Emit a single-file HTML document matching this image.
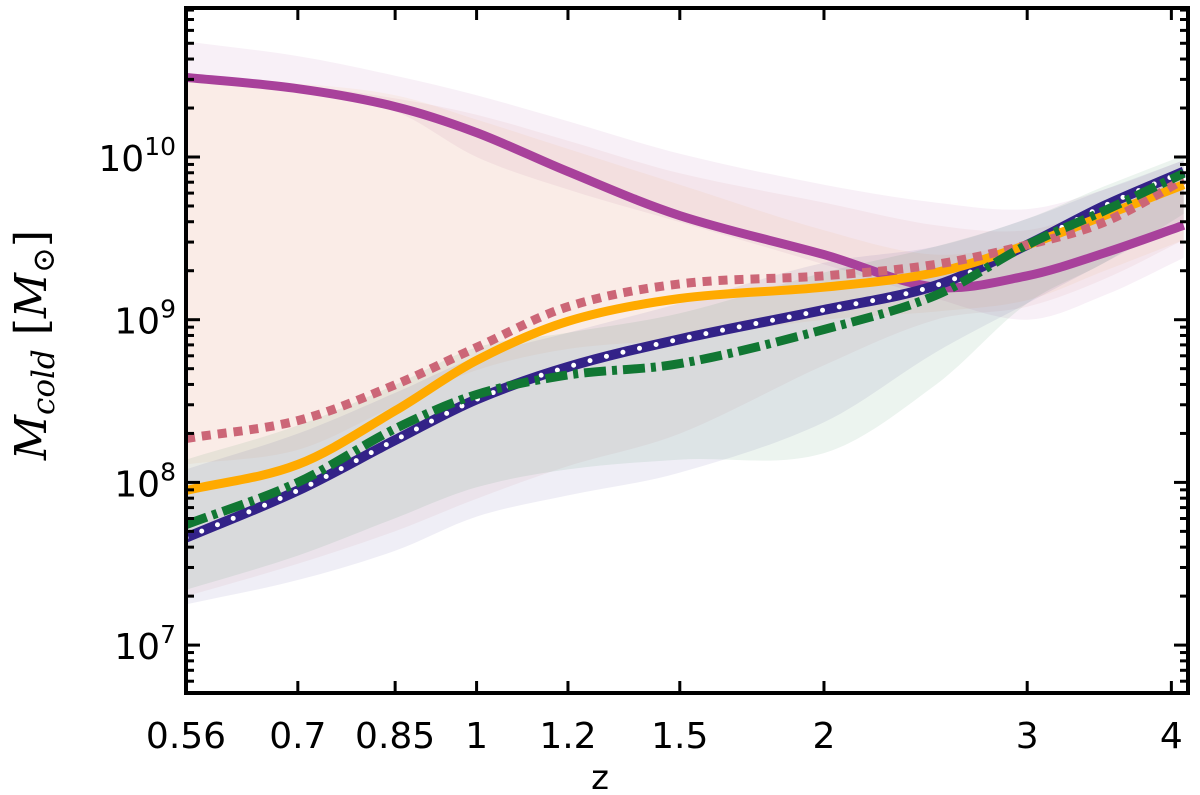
<!DOCTYPE html>
<html><head><meta charset="utf-8"><style>
body{margin:0;background:#fff}
svg{display:block}
text{fill:#000}
</style></head><body>
<svg id="chart" width="1200" height="795">
<defs><clipPath id="clip"><rect x="186" y="8" width="1002" height="685"/></clipPath></defs>
<g id="bands" clip-path="url(#clip)"></g>
<g id="lines" clip-path="url(#clip)"></g>
<g id="axes"></g>
<text x="600" y="789" style="font-family:'DejaVu Sans',sans-serif;font-size:34px" text-anchor="middle">z</text>
<text transform="translate(46,345) rotate(-90)" style="font-family:'DejaVu Serif','Liberation Serif',serif;font-size:44px" text-anchor="middle"><tspan font-style="italic">M</tspan><tspan font-style="italic" font-size="31" dy="8">cold</tspan><tspan dy="-8"> [</tspan><tspan font-style="italic">M</tspan><tspan font-size="31" dy="8">⊙</tspan><tspan dy="-8">]</tspan></text>
</svg>
<script>
const zGrid=[0.56,0.7,0.85,1,1.2,1.5,2,2.5,3,3.5,4.1];
const purple=[10.49,10.42,10.31,10.15,9.91,9.64,9.40,9.20,9.27,9.41,9.58];
const rose=[8.27,8.38,8.60,8.83,9.08,9.22,9.27,9.34,9.46,9.60,9.86];
const orange=[7.95,8.11,8.44,8.75,8.99,9.13,9.20,9.29,9.46,9.64,9.83];
const navy=[7.66,7.95,8.26,8.51,8.71,8.88,9.06,9.21,9.46,9.70,9.91];
const green=[7.74,8.0,8.33,8.54,8.66,8.73,8.94,9.15,9.46,9.67,9.90];
const purpleHi=[10.71,10.62,10.50,10.38,10.22,10.02,9.83,9.72,9.68,9.80,9.98];
const purpleLo=[10.47,10.40,10.28,10.0,9.80,9.60,9.34,9.13,9.0,9.15,9.38];
const orangeHi=[10.47,10.45,10.38,10.23,10.05,9.83,9.55,9.40,9.49,9.70,9.90];
const orangeLo=[8.11,8.20,8.47,8.69,8.82,8.88,9.0,9.05,9.12,9.30,9.49];
const navyHi=[8.08,8.30,8.55,8.77,8.92,9.10,9.35,9.45,9.62,9.80,9.98];
const navyLo=[7.25,7.40,7.58,7.79,7.92,8.06,8.37,8.80,9.10,9.35,9.61];
const greenHi=[8.14,8.35,8.6,8.83,8.92,9.04,9.29,9.45,9.62,9.82,10.01];
const greenLo=[7.34,7.55,7.78,7.97,8.08,8.14,8.18,8.60,9.10,9.35,9.65];
const roseHi=[10.47,10.44,10.36,10.26,10.1,9.9,9.72,9.58,9.55,9.7,9.89];
const roseLo=[7.30,7.50,7.70,7.9,8.1,8.3,8.72,9.0,9.08,9.25,9.49];
const xTicks=[0.56,0.7,0.85,1,1.2,1.5,2,3,4];
const xTickLabels=["0.56","0.7","0.85","1","1.2","1.5","2","3","4"];
const yDecades=[7,8,9,10];

const NS="http://www.w3.org/2000/svg";
const X0=186,X1=1188,Y0=8,Y1=693;
const xs=z=>186+1154*(Math.log10(z)-Math.log10(0.56));
const ys=l=>157-(l-10)*162.7;
function mk(t,a,p){const e=document.createElementNS(NS,t);for(const k in a)e.setAttribute(k,a[k]);p.appendChild(e);return e;}
function segs(pts){const n=pts.length;const m=pts.map((p,i)=>{const a=pts[Math.max(0,i-1)],b=pts[Math.min(n-1,i+1)];return (b[1]-a[1])/(b[0]-a[0]);});
let d="";
for(let i=0;i<n-1;i++){const p1=pts[i],p2=pts[i+1],dx=(p2[0]-p1[0])/3;
d+=" C"+(p1[0]+dx).toFixed(1)+","+(p1[1]+m[i]*dx).toFixed(1)+" "+(p2[0]-dx).toFixed(1)+","+(p2[1]-m[i+1]*dx).toFixed(1)+" "+p2[0].toFixed(1)+","+p2[1].toFixed(1);}
return d;}
function smooth(pts){return "M"+pts[0][0].toFixed(1)+","+pts[0][1].toFixed(1)+segs(pts);}
function smoothRev(pts){const n=pts.length;const m=pts.map((p,i)=>{const a=pts[Math.max(0,i-1)],b=pts[Math.min(n-1,i+1)];return (b[1]-a[1])/(b[0]-a[0]);});
let d="";
for(let i=n-1;i>0;i--){const p1=pts[i],p2=pts[i-1],dx=(p1[0]-p2[0])/3;
d+=" C"+(p1[0]-dx).toFixed(1)+","+(p1[1]-m[i]*dx).toFixed(1)+" "+(p2[0]+dx).toFixed(1)+","+(p2[1]+m[i-1]*dx).toFixed(1)+" "+p2[0].toFixed(1)+","+p2[1].toFixed(1);}
return d;}
const pts=v=>zGrid.map((z,i)=>[xs(z),ys(v[i])]);
const bands=document.getElementById('bands'),lines=document.getElementById('lines'),axes=document.getElementById('axes');
[[purpleHi,purpleLo,'#a53f9b','purple'],[orangeHi,orangeLo,'#f5a34a','orange'],[roseHi,roseLo,'#cc6677','rose'],[navyHi,navyLo,'#332288','navy'],[greenHi,greenLo,'#117733','green']].forEach(b=>{
const hi=pts(b[0]),lo=pts(b[1]);
const last=lo[lo.length-1];
const d=smooth(hi)+" L"+last[0].toFixed(1)+","+last[1].toFixed(1)+smoothRev(lo)+" Z";
const p=mk('path',{d:d,fill:b[2],'fill-opacity':0.08},bands);


});
function line(v,color,w,dash,name){const p=mk('path',{d:smooth(pts(v)),fill:'none',stroke:color,'stroke-width':w},lines);if(dash)p.setAttribute('stroke-dasharray',dash);

return p;}
line(purple,'#a8419b',9,null,'purple-line');
line(navy,'#332288',10,null,'navy-line');
const dots=line(navy,'#fff',5,'0 17','navy-dots');dots.setAttribute('stroke-linecap','round');
line(orange,'#ffaa00',9,null,'orange-line');
line(rose,'#cc6677',9,'9 7','rose-dotted-line');
line(green,'#117733',9,'22 6 5 6','green-dashdot-line');
mk('rect',{x:X0,y:Y0,width:X1-X0,height:Y1-Y0,fill:'none',stroke:'#000','stroke-width':4},axes);
xTicks.forEach((z,i)=>{const x=xs(z);
mk('line',{x1:x,x2:x,y1:Y1,y2:Y1-12,stroke:'#000','stroke-width':3},axes);
mk('line',{x1:x,x2:x,y1:Y0,y2:Y0+12,stroke:'#000','stroke-width':3},axes);
const t=mk('text',{x:x,y:748,'text-anchor':'middle',style:"font-family:'DejaVu Sans',sans-serif;font-size:36px"},axes);t.textContent=xTickLabels[i];

});
for(let d=6;d<=10;d++){for(let m=1;m<=9;m++){const l=d+Math.log10(m);const y=ys(l);if(y<Y0||y>Y1)continue;
const len=m==1?14:8;
mk('line',{x1:X0,x2:X0+len,y1:y,y2:y,stroke:'#000','stroke-width':3},axes);
mk('line',{x1:X1,x2:X1-len,y1:y,y2:y,stroke:'#000','stroke-width':3},axes);}}
yDecades.forEach(d=>{const y=ys(d);const t=mk('text',{x:176,y:y+14,'text-anchor':'end',style:"font-family:'DejaVu Sans',sans-serif;font-size:36px"},axes);
t.innerHTML='10<tspan dy="-16" font-size="25">'+d+'</tspan>';

});
</script>
</body></html>
